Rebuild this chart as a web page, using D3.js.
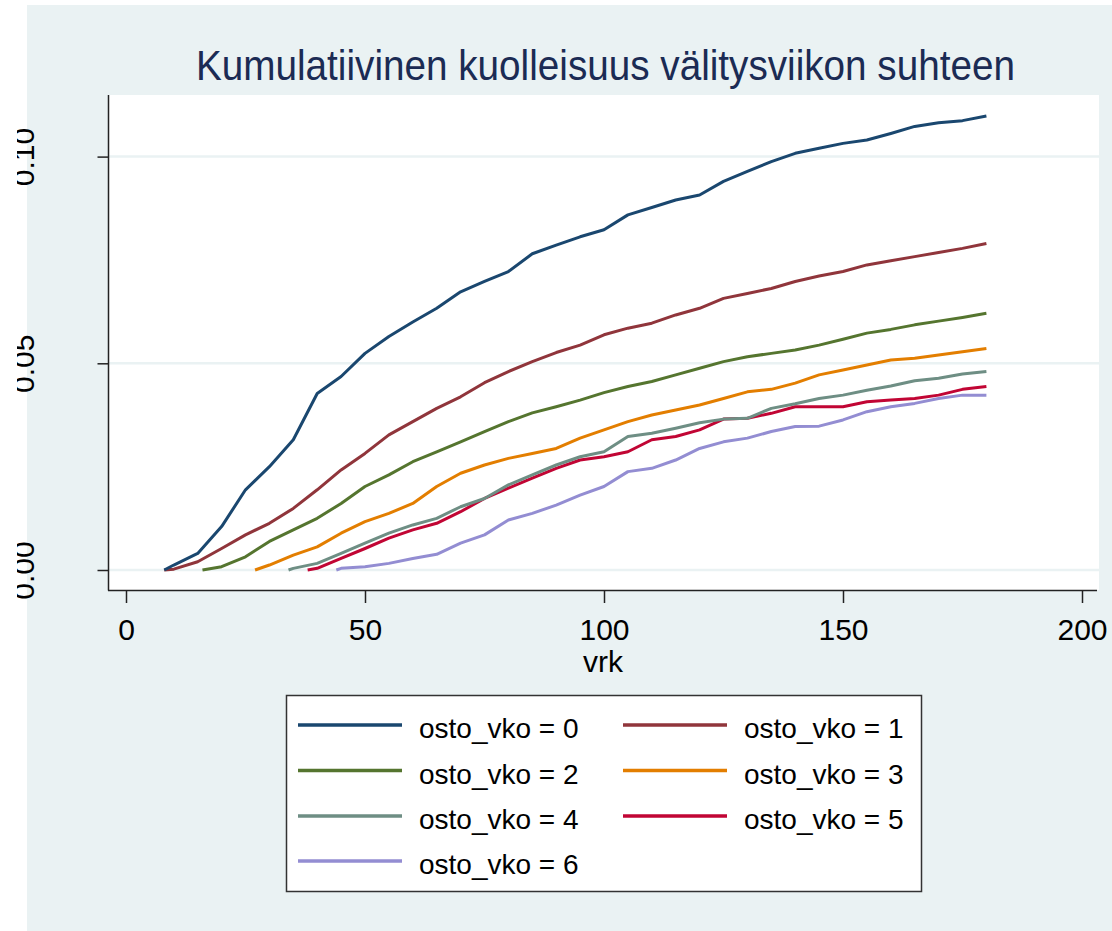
<!DOCTYPE html>
<html lang="fi">
<head>
    <meta charset="UTF-8">
    <title>Kumulatiivinen kuolleisuus</title>
    <script src="https://cdn.jsdelivr.net/npm/d3@7/dist/d3.min.js"></script>
    <style>
        body { margin: 0; background: #fff; }
        text { font-family: "Liberation Sans", Arial, sans-serif; }
    </style>
</head>
<body>
    <svg width="1112" height="931"></svg>

    <script>
        // data (every 5 days)
        var groups = ["osto_vko = 0", "osto_vko = 1", "osto_vko = 2", "osto_vko = 3",
            "osto_vko = 4", "osto_vko = 5", "osto_vko = 6"]
        var colors = ["#1a476f", "#90353b", "#55752f", "#e37e00", "#6e8e84", "#c10534", "#938dd2"]
        var startDay = [8, 8, 16, 27, 34, 38, 44]
        var days = [10, 15, 20, 25, 30, 35, 40, 45, 50, 55, 60, 65, 70, 75, 80, 85, 90, 95, 100,
            105, 110, 115, 120, 125, 130, 135, 140, 145, 150, 155, 160, 165, 170, 175, 180]
        var vko0 = [0.0012, 0.004, 0.0105, 0.0194, 0.025, 0.0315, 0.0427, 0.0468, 0.0524, 0.0565, 0.060,
            0.0633, 0.0673, 0.0698, 0.0722, 0.0765, 0.0786, 0.0806, 0.0823, 0.0859, 0.0877, 0.0895, 0.0907,
            0.094, 0.0964, 0.0988, 0.1008, 0.102, 0.1032, 0.104, 0.1056, 0.1073, 0.1082, 0.1087, 0.1098]
        var vko1 = [0.0002, 0.002, 0.0052, 0.0085, 0.0113, 0.0149, 0.0194, 0.0242, 0.0282, 0.0327, 0.0359,
            0.0391, 0.0419, 0.0453, 0.048, 0.0504, 0.0526, 0.0544, 0.0569, 0.0585, 0.0597, 0.0617, 0.0633,
            0.0657, 0.0669, 0.0681, 0.0698, 0.0711, 0.0722, 0.0738, 0.0748, 0.0758, 0.0768, 0.0778, 0.079]
        var vko2 = [null, null, 0.0008, 0.0032, 0.0069, 0.0097, 0.0125, 0.0161, 0.0202, 0.023, 0.0262,
            0.0286, 0.031, 0.0335, 0.0359, 0.038, 0.0395, 0.0411, 0.0429, 0.0444, 0.0456, 0.0472, 0.0488,
            0.0504, 0.0516, 0.0524, 0.0532, 0.0544, 0.0558, 0.0573, 0.0582, 0.0593, 0.0602, 0.0611, 0.0621]
        var vko3 = [null, null, null, null, 0.0012, 0.0036, 0.0056, 0.0089, 0.0117, 0.0137, 0.0161,
            0.0202, 0.0234, 0.0254, 0.027, 0.0282, 0.0294, 0.0319, 0.0339, 0.0359, 0.0375, 0.0387, 0.0399,
            0.0415, 0.0431, 0.0437, 0.0452, 0.0472, 0.0484, 0.0496, 0.0508, 0.0512, 0.052, 0.0528, 0.0536]
        var vko4 = [null, null, null, null, null, 0.0004, 0.0016, 0.004, 0.0065, 0.0089, 0.0109,
            0.0125, 0.0153, 0.0173, 0.0206, 0.023, 0.0254, 0.0274, 0.0286, 0.0323, 0.0331, 0.0343, 0.0356,
            0.0365, 0.0367, 0.0391, 0.0402, 0.0415, 0.0423, 0.0435, 0.0445, 0.0458, 0.0464, 0.0474, 0.048]
        var vko5 = [null, null, null, null, null, null, 0.0004, 0.0028, 0.0052, 0.0077, 0.0097,
            0.0113, 0.0141, 0.0173, 0.0198, 0.0222, 0.0246, 0.0266, 0.0274, 0.0286, 0.0315, 0.0323, 0.0339,
            0.0365, 0.0367, 0.0379, 0.0395, 0.0395, 0.0395, 0.0407, 0.0411, 0.0415, 0.0423, 0.0437, 0.0444]
        var vko6 = [null, null, null, null, null, null, null, 0.0004, 0.0008, 0.0016, 0.0028,
            0.0038, 0.0065, 0.0085, 0.0121, 0.0137, 0.0157, 0.0181, 0.0202, 0.0238, 0.0246, 0.0266, 0.0294,
            0.031, 0.0319, 0.0335, 0.0347, 0.0348, 0.0363, 0.0383, 0.0395, 0.0403, 0.0415, 0.0423, 0.0423]
        var xTicks = [0, 50, 100, 150, 200]
        var yTicks = [0, 0.05, 0.10]

        var series = [vko0, vko1, vko2, vko3, vko4, vko5, vko6].map(function (vals, i) {
            var pts = [{d: startDay[i], v: 0}]
            vals.forEach(function (v, j) {
                if (v !== null) pts.push({d: days[j], v: v})
            })
            return {name: groups[i], color: colors[i], points: pts}
        })

        var svg = d3.select("svg")
        var plot = {left: 108, top: 95, right: 1099, bottom: 590}

        // backgrounds
        svg.append("rect").attr("width", 1112).attr("height", 931).attr("fill", "#fff")
        svg.append("rect").attr("x", 27).attr("y", 5).attr("width", 1085).attr("height", 926)
            .attr("fill", "#eaf2f3")
        svg.append("rect").attr("x", plot.left).attr("y", plot.top)
            .attr("width", plot.right - plot.left).attr("height", plot.bottom - plot.top)
            .attr("fill", "#fff")

        var x = d3.scaleLinear().domain([0, 200]).range([126, 1082])
        var y = d3.scaleLinear().domain([0, 0.1]).range([570, 156.6])

        // gridlines
        svg.append("g").selectAll("line").data(yTicks).enter().append("line")
            .attr("x1", plot.left + 1).attr("x2", plot.right)
            .attr("y1", d => y(d)).attr("y2", d => y(d))
            .attr("stroke", "#eaf2f3").attr("stroke-width", 2.5)

        // curves
        var line = d3.line().x(p => x(p.d)).y(p => y(p.v))
        svg.append("g").selectAll("path").data(series.slice().reverse()).enter().append("path")
            .attr("d", s => line(s.points))
            .attr("fill", "none")
            .attr("stroke", s => s.color)
            .attr("stroke-width", 3)
            .attr("stroke-linejoin", "round")

        // y axis, labels turned and cut at the left edge
        svg.append("defs").append("clipPath").attr("id", "cut")
            .append("rect").attr("x", 17).attr("y", 0).attr("width", 1100).attr("height", 931)
        var yAxis = svg.append("g").attr("clip-path", "url(#cut)")
            .append("g").attr("transform", `translate(${plot.left + 0.5},0)`)
            .call(d3.axisLeft(y).tickValues(yTicks).tickFormat(d3.format(".2f")).tickSize(11))
        yAxis.select(".domain").remove()
        yAxis.selectAll(".tick line").attr("stroke", "#222").attr("stroke-width", 1.5)
        yAxis.selectAll(".tick text")
            .attr("x", null).attr("dy", null)
            .attr("transform", "translate(-75,0) rotate(-90)")
            .attr("text-anchor", "middle")
            .attr("font-size", 30).attr("fill", "#000")
            .style("font-family", "'Liberation Sans', Arial, sans-serif")

        // x axis
        var xAxis = svg.append("g").attr("transform", `translate(0,${plot.bottom})`)
            .call(d3.axisBottom(x).tickValues(xTicks).tickFormat(d3.format("d")).tickSize(13))
        xAxis.select(".domain").remove()
        xAxis.selectAll(".tick line").attr("stroke", "#222").attr("stroke-width", 1.5)
        xAxis.selectAll(".tick text")
            .attr("y", 50).attr("dy", null)
            .attr("font-size", 30).attr("fill", "#000")
            .style("font-family", "'Liberation Sans', Arial, sans-serif")

        // axis lines
        svg.append("line").attr("x1", plot.left + 0.5).attr("x2", plot.left + 0.5)
            .attr("y1", plot.top).attr("y2", plot.bottom + 0.5)
            .attr("stroke", "#222").attr("stroke-width", 1.5)
        svg.append("line").attr("x1", plot.left).attr("x2", plot.right - 2)
            .attr("y1", plot.bottom + 0.5).attr("y2", plot.bottom + 0.5)
            .attr("stroke", "#222").attr("stroke-width", 1.5)

        svg.append("text").attr("x", 603).attr("y", 672)
            .attr("text-anchor", "middle").attr("font-size", 30).text("vrk")

        // title
        svg.append("text").attr("x", 605.5).attr("y", 80)
            .attr("text-anchor", "middle").attr("font-size", 43)
            .attr("fill", "#1b2b54")
            .attr("textLength", 819).attr("lengthAdjust", "spacingAndGlyphs")
            .text("Kumulatiivinen kuolleisuus välitysviikon suhteen")

        // legend
        var legend = svg.append("g")
        legend.append("rect").attr("x", 286.5).attr("y", 695.5).attr("width", 635).attr("height", 196)
            .attr("fill", "#fff").attr("stroke", "#333").attr("stroke-width", 1.5)
        var rowY = [725, 770.5, 816, 861]
        var items = legend.selectAll("g.item").data(series).enter().append("g")
            .attr("transform", (s, i) => `translate(${i % 2 ? 623 : 298},${rowY[Math.floor(i / 2)]})`)
        items.append("line").attr("x1", 0).attr("x2", 104)
            .attr("stroke", s => s.color).attr("stroke-width", 3.5)
        items.append("text").attr("x", 121).attr("y", 13)
            .attr("font-size", 28).attr("fill", "#000")
            .text(s => s.name)
    </script>
</body>
</html>
